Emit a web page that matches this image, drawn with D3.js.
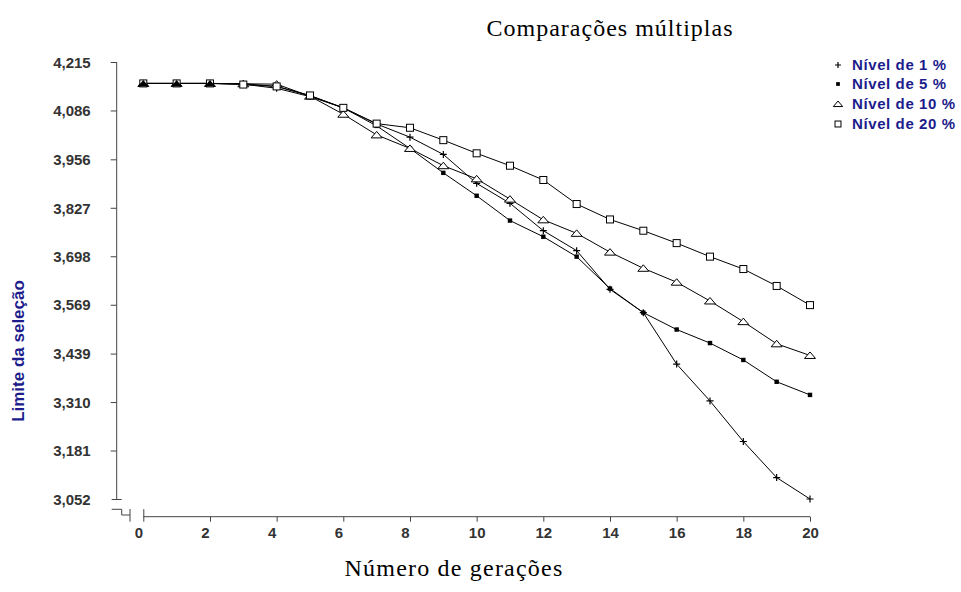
<!DOCTYPE html>
<html>
<head>
<meta charset="utf-8">
<script src="https://cdn.jsdelivr.net/npm/d3@7"></script>
<style>
  html, body { margin: 0; padding: 0; background: #fff; }
  svg { display: block; }
</style>
</head>
<body>
<svg id="chart" width="961" height="592"></svg>
<script>
const generations = [0,1,2,3,4,5,6,7,8,9,10,11,12,13,14,15,16,17,18,19,20];
const nivel1  = [4.158,4.158,4.158,4.156,4.145,4.123,4.093,4.050,4.015,3.969,3.892,3.839,3.766,3.713,3.610,3.548,3.411,3.313,3.205,3.109,3.052];
const nivel5  = [4.158,4.158,4.158,4.157,4.150,4.125,4.093,4.045,3.985,3.920,3.859,3.793,3.750,3.697,3.612,3.548,3.503,3.467,3.422,3.364,3.329];
const nivel10 = [4.158,4.158,4.158,4.157,4.156,4.124,4.076,4.021,3.985,3.939,3.904,3.850,3.795,3.759,3.709,3.666,3.629,3.579,3.524,3.465,3.434];
const nivel20 = [4.158,4.158,4.158,4.155,4.150,4.126,4.093,4.051,4.040,4.007,3.972,3.939,3.901,3.837,3.796,3.766,3.733,3.697,3.664,3.619,3.568];
const seriesNames = ["Nível de 1 %","Nível de 5 %","Nível de 10 %","Nível de 20 %"];
const yTickValues = [3.052,3.181,3.310,3.439,3.569,3.698,3.827,3.956,4.086,4.215];
const yTickLabels = ["3,052","3,181","3,310","3,439","3,569","3,698","3,827","3,956","4,086","4,215"];
const xTickValues = [0,2,4,6,8,10,12,14,16,18,20];
const titleText = "Comparações múltiplas";
const xTitle = "Número de gerações";
const yTitle = "Limite da seleção";

const svg = d3.select("#chart");
const axisColor = "#444";
const navy = "#1c1c8c";

const x = d3.scaleLinear().domain([0, 20]).range([143.3, 810]);
const y = d3.scaleLinear().domain([3.052, 4.215]).range([499, 62]);

// Title
svg.append("text").attr("x", 610).attr("y", 36).attr("text-anchor", "middle")
  .attr("font-family", "Liberation Serif, Times New Roman, serif").attr("font-size", 24)
  .attr("letter-spacing", "1px").attr("fill", "#000").text(titleText);

// X title
svg.append("text").attr("x", 454).attr("y", 576).attr("text-anchor", "middle")
  .attr("font-family", "Liberation Serif, Times New Roman, serif").attr("font-size", 24)
  .attr("letter-spacing", "1.2px").attr("fill", "#000").text(xTitle);

// Y title
svg.append("text").attr("transform", "translate(24,351) rotate(-90)").attr("text-anchor", "middle")
  .attr("font-family", "Liberation Sans, Arial, sans-serif").attr("font-weight", "bold")
  .attr("font-size", 17).attr("fill", navy).text(yTitle);

// Y axis
const yAxis = d3.axisLeft(y).tickValues(yTickValues).tickSize(6).tickPadding(20)
  .tickFormat((d, i) => yTickLabels[i]);
const gy = svg.append("g").attr("transform", "translate(116.7,0)").call(yAxis);
gy.select(".domain").remove();
gy.append("line").attr("x1", 0).attr("x2", 0).attr("y1", y(4.215)).attr("y2", y(3.052)).attr("stroke", axisColor);
gy.selectAll(".tick line").attr("stroke", axisColor).attr("x1", -6).attr("x2", 0);
gy.selectAll(".tick").filter(d => d === 3.052).select("line").attr("x1", -5).attr("x2", 5);
gy.selectAll(".tick text").attr("font-family", "Liberation Sans, Arial, sans-serif")
  .attr("font-weight", "bold").attr("font-size", 15).attr("fill", "#333").attr("dy", "0.35em");

// X axis
const xAxis = d3.axisBottom(x).tickValues(xTickValues).tickSize(5).tickPadding(6).tickFormat(d3.format("d"));
const gx = svg.append("g").attr("transform", "translate(0,516.7)").call(xAxis);
gx.select(".domain").remove();
gx.append("line").attr("x1", x(0)).attr("x2", x(20)).attr("y1", 0).attr("y2", 0).attr("stroke", axisColor);
gx.selectAll(".tick line").attr("stroke", axisColor);
gx.selectAll(".tick").filter(d => d === 0).select("line").attr("y1", -7.5).attr("y2", 5);
gx.selectAll(".tick text").attr("font-family", "Liberation Sans, Arial, sans-serif")
  .attr("font-weight", "bold").attr("font-size", 15).attr("fill", "#333")
  .attr("dx", d => d < 10 ? -5 : 0);

// Axis break marks
const brk = svg.append("g").attr("fill", "none").attr("stroke", axisColor);
brk.append("path").attr("d", "M111.7,509.3H121.7V515H130");
brk.append("line").attr("x1", 130).attr("x2", 130).attr("y1", 509).attr("y2", 521.7);

// Series
const allSeries = [nivel1, nivel5, nivel10, nivel20];
const line = d3.line().x((d, i) => x(generations[i])).y(d => y(d));

function drawMarker(g, type, cx, cy, sc = 1) {
  if (type === 0) {
    const r = 3.5 * sc;
    g.append("path").attr("d", `M${cx-r},${cy}H${cx+r}M${cx},${cy-r}V${cy+r}`)
      .attr("stroke", "#000").attr("stroke-width", 1.2).attr("fill", "none");
  } else if (type === 1) {
    const r = 2.2 * sc;
    g.append("rect").attr("x", cx-r).attr("y", cy-r).attr("width", 2*r).attr("height", 2*r).attr("fill", "#000");
  } else if (type === 2) {
    g.append("path").attr("d", `M${cx-5.5*sc},${cy+3*sc}L${cx},${cy-3.5*sc}L${cx+5.5*sc},${cy+3*sc}Z`)
      .attr("stroke", "#000").attr("stroke-width", 1).attr("fill", "#fff");
  } else {
    const r = 3.5 * sc;
    g.append("rect").attr("x", cx-r).attr("y", cy-r).attr("width", 2*r).attr("height", 2*r)
      .attr("stroke", "#000").attr("stroke-width", 1).attr("fill", "#fff");
  }
}

allSeries.forEach((s, k) => {
  svg.append("path").datum(s).attr("d", line).attr("fill", "none").attr("stroke", "#000").attr("stroke-width", 1);
});
allSeries.forEach((s, k) => {
  const g = svg.append("g");
  s.forEach((v, i) => drawMarker(g, k, x(generations[i]), y(v)));
});
// overlapping early markers appear solid
const gEarly = svg.append("g");
[0,1,2].forEach(i => {
  const cx = x(generations[i]), cy = y(nivel1[i]);
  gEarly.append("path").attr("d", `M${cx-5.5},${cy+3}L${cx},${cy-3.5}L${cx+5.5},${cy+3}Z`).attr("fill", "#000");
});

// Legend
const legend = svg.append("g");
const legendY = [65, 84, 104, 124];
seriesNames.forEach((name, k) => {
  drawMarker(legend, k, 838, legendY[k], 0.85);
  legend.append("text").attr("x", 852).attr("y", legendY[k]).attr("dy", "0.35em")
    .attr("font-family", "Liberation Sans, Arial, sans-serif").attr("font-weight", "bold")
    .attr("font-size", 15).attr("letter-spacing", "0.6px").attr("fill", navy).text(name);
});
</script>
</body>
</html>
